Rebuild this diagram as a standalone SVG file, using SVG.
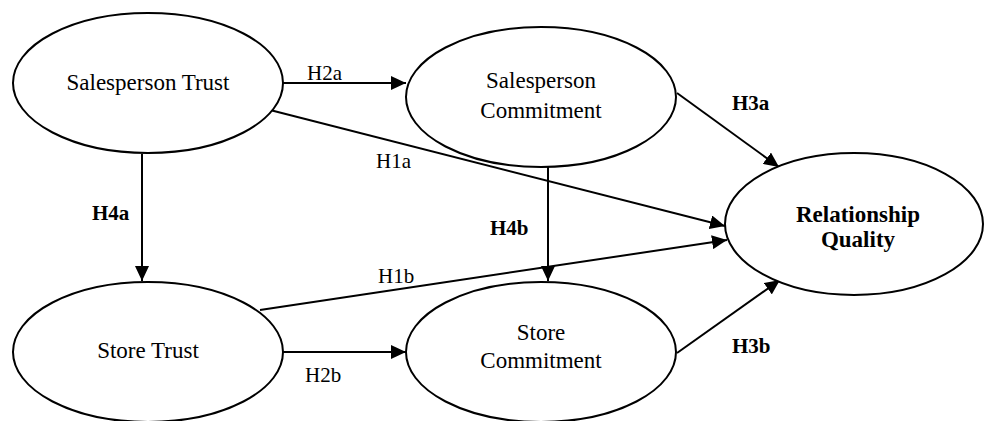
<svg xmlns="http://www.w3.org/2000/svg" width="984" height="421" viewBox="0 0 984 421">
<style>
.node ellipse{fill:#fff;stroke:#000;stroke-width:2}
text{font-family:"Liberation Serif","Times New Roman",serif;fill:#000}
.nt{font-size:23px;text-anchor:middle}
.lb{font-size:21px}
.b{font-weight:bold}
.c line{stroke:#000;stroke-width:2}
</style>
<defs>
<marker id="ah" markerUnits="userSpaceOnUse" markerWidth="16" markerHeight="14" refX="15" refY="7" orient="auto">
<path d="M0,0 L15,7 L0,14 z" fill="#000"/>
</marker>
</defs>
<g class="c" id="connectors">
<line x1="283" y1="83" x2="406" y2="83" marker-end="url(#ah)"/>
<line x1="270" y1="110" x2="725" y2="226" marker-end="url(#ah)"/>
<line x1="142" y1="154" x2="142" y2="281" stroke-width="1.4" marker-end="url(#ah)"/>
<line x1="548" y1="167" x2="548" y2="281" stroke-width="1.4" marker-end="url(#ah)"/>
<line x1="260" y1="310" x2="727" y2="240" marker-end="url(#ah)"/>
<line x1="283" y1="352" x2="406" y2="352" marker-end="url(#ah)"/>
<line x1="677" y1="93" x2="779" y2="167" stroke-width="2.6" marker-end="url(#ah)"/>
<line x1="677" y1="353" x2="780" y2="280" stroke-width="2.6" marker-end="url(#ah)"/>
<text class="lb" x="307" y="80">H2a</text>
<text class="lb" x="376" y="168">H1a</text>
<text class="lb b" x="92" y="220">H4a</text>
<text class="lb" x="378" y="283">H1b</text>
<text class="lb" x="305" y="382">H2b</text>
<text class="lb b" x="490" y="235">H4b</text>
<text class="lb b" x="732" y="110">H3a</text>
<text class="lb b" x="732" y="353">H3b</text>
</g>
<g class="node" id="salesperson-trust">
<ellipse cx="148" cy="83" rx="135" ry="70"/>
<text class="nt" x="148" y="90">Salesperson Trust</text>
</g>
<g class="node" id="salesperson-commitment">
<ellipse cx="541" cy="97" rx="135" ry="70"/>
<text class="nt" x="541" y="88">Salesperson</text>
<text class="nt" x="541" y="118">Commitment</text>
</g>
<g class="node" id="relationship-quality">
<ellipse cx="854" cy="224" rx="129" ry="71"/>
<text class="nt b" x="858" y="222" font-size="22">Relationship</text>
<text class="nt b" x="858" y="247" font-size="22">Quality</text>
</g>
<g class="node" id="store-trust">
<ellipse cx="148" cy="352" rx="135" ry="70"/>
<text class="nt" x="148" y="358">Store Trust</text>
</g>
<g class="node" id="store-commitment">
<ellipse cx="541" cy="352" rx="135" ry="70"/>
<text class="nt" x="541" y="340">Store</text>
<text class="nt" x="541" y="368">Commitment</text>
</g>
</svg>
